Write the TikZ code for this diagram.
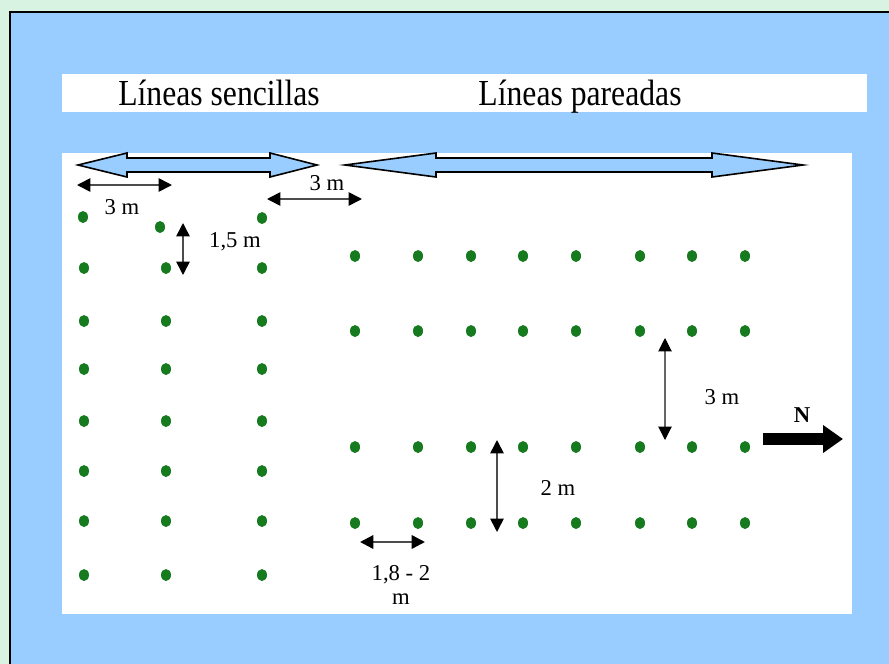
\documentclass[tikz,border=0pt]{standalone}
\usepackage{fontspec}
\setmainfont{Liberation Serif}
\usepackage{xcolor}
\usetikzlibrary{arrows.meta, shapes.geometric}
\definecolor{paleGreen}{RGB}{216,243,226}
\definecolor{skyBlue}{RGB}{153,204,255}
\definecolor{plantGreen}{RGB}{22,122,30}

\begin{document}
\begin{tikzpicture}[x=0.75pt, y=-0.75pt,
    plant/.style={ellipse, fill=plantGreen, inner sep=0pt, minimum width=7.5pt, minimum height=9pt},
    dim/.style={draw=black!70, line width=1.2pt,
        {Triangle[length=10pt,width=10pt,color=black]}-{Triangle[length=10pt,width=10pt,color=black]}},
    lbl/.style={font=\rmfamily\fontsize{17}{18}\selectfont, inner sep=1pt},
    title/.style={font=\rmfamily\fontsize{25}{28}\selectfont, anchor=base},
    bigarrow/.style={draw=black, fill=skyBlue, line width=1.2pt, line join=miter}]
    \useasboundingbox (0,0) rectangle (889,664);
    \clip (0,0) rectangle (889,664);

    % Background and panels
    \fill[paleGreen] (0,0) rectangle (889,664);
    \draw[fill=skyBlue, line width=1.5pt] (10,12) rectangle (900,680);
    \fill[white] (62,74) rectangle (867,112);
    \fill[white] (62,153) rectangle (852,614);

    % Titles
    \node[title] (sencillas) at (219,105) {\scalebox{0.95}[1.1]{Líneas sencillas}};
    \node[title] (pareadas) at (580,105) {\scalebox{0.95}[1.1]{Líneas pareadas}};

    % Big double arrows
    \draw[bigarrow] (78,165) -- (127,153) -- (127,158) -- (270,158) -- (270,153) -- (317,165)
                 -- (270,177) -- (270,172) -- (127,172) -- (127,177) -- cycle;
    \draw[bigarrow] (345,165) -- (436,153) -- (436,158) -- (712,158) -- (712,153) -- (803,165)
                 -- (712,177) -- (712,172) -- (436,172) -- (436,177) -- cycle;

    % Single lines (plants)
    \node[plant] (s-0-1) at (83,217) {};
    \node[plant] (s-0-2) at (160,227) {};
    \node[plant] (s-0-3) at (262,218) {};
    \foreach \y [count=\r] in {268,321,369,421,471,521,575} {
        \foreach \x [count=\c] in {84,166,262} {
            \node[plant] (s-\r-\c) at (\x,\y) {};
        }
    }

    % Paired lines (plants)
    \foreach \y [count=\r] in {256,331,447,523} {
        \foreach \x [count=\c] in {355,418,471,523,576,640,692,745} {
            \node[plant] (p-\r-\c) at (\x,\y) {};
        }
    }

    % Distance markers
    \coordinate (a1) at (77,185);  \coordinate (a2) at (172,185);
    \coordinate (b1) at (267,199); \coordinate (b2) at (362,199);
    \coordinate (c1) at (183,223); \coordinate (c2) at (183,275);
    \coordinate (d1) at (360,542); \coordinate (d2) at (425,542);
    \coordinate (e1) at (497,440); \coordinate (e2) at (497,532);
    \coordinate (f1) at (665,338); \coordinate (f2) at (665,440);
    \draw[dim] (a1) -- (a2);
    \draw[dim] (b1) -- (b2);
    \draw[dim] (c1) -- (c2);
    \draw[dim, line width=1.8pt] (d1) -- (d2);
    \draw[dim] (e1) -- (e2);
    \draw[dim, draw=black!60, line width=0.8pt] (f1) -- (f2);

    \node[lbl] (la) at (122,207) {3 m};
    \node[lbl] (lb) at (327,183) {3 m};
    \node[lbl] (lc) at (235,242) {1,5 m};
    \node[lbl, align=center, anchor=north] (ld) at (401,564) {1,8 - 2\\m};
    \node[lbl] (le) at (558,488) {2 m};
    \node[lbl] (lf) at (722,397) {3 m};

    % North arrow
    \coordinate (n1) at (763,439);
    \coordinate (n2) at (843,439);
    \draw[line width=9pt, -{Triangle[length=15pt,width=20pt]}] (n1) -- (n2);
    \node[lbl, font=\rmfamily\fontsize{17}{18}\selectfont\bfseries] (north) at (802,415) {N};
\end{tikzpicture}
\end{document}
